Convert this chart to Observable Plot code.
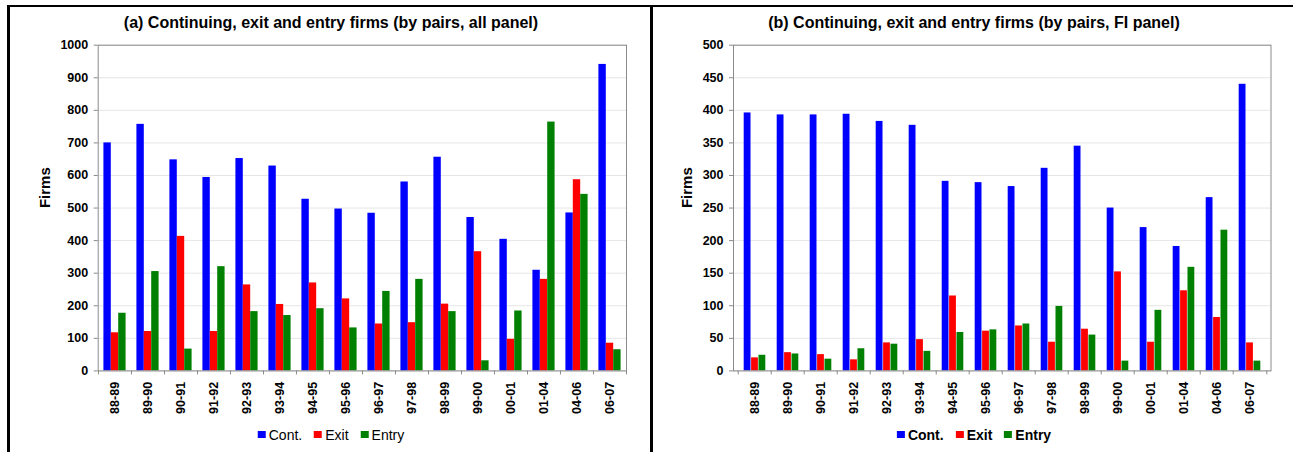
<!DOCTYPE html>
<html><head><meta charset="utf-8">
<script src="https://cdn.jsdelivr.net/npm/d3@7"></script>
<script src="https://cdn.jsdelivr.net/npm/@observablehq/plot@0.6"></script>
<style>
body{margin:0;background:#fff;font-family:"Liberation Sans",Arial,sans-serif;}
#root{position:relative;width:1293px;height:452px;overflow:hidden;background:#fff;}
.border{position:absolute;background:#000;}
.title{position:absolute;top:15px;font-weight:bold;font-size:16px;line-height:16px;white-space:nowrap;transform:translateX(-50%);color:#000;}
.chart{position:absolute;top:30px;}
.legend{position:absolute;top:426.5px;display:flex;align-items:center;transform:translateX(-50%);font-size:14px;line-height:16px;white-space:nowrap;color:#000;}
.sw{display:inline-block;width:8px;height:7px;margin-right:3px;}
.item{display:flex;align-items:center;margin-right:12px;}
.item:last-child{margin-right:0;}
</style></head>
<body><div id="root"></div>
<script>
// ---- data ----
const periods = ["88-89","89-90","90-91","91-92","92-93","93-94","94-95","95-96","96-97","97-98","98-99","99-00","00-01","01-04","04-06","06-07"];
const seriesNames = ["Cont.","Exit","Entry"];
const seriesColors = ["#0000ff","#ff0000","#008000"];

const contAll  = [700,757,648,594,652,629,527,497,484,580,656,471,404,309,485,941];
const exitAll  = [117,121,413,121,264,204,270,221,144,148,205,366,97,281,587,85];
const entryAll = [177,305,67,320,182,170,191,132,244,281,182,31,184,764,542,65];

const contFI  = [396,393,393,394,383,377,291,289,283,311,345,250,220,191,266,440];
const exitFI  = [20,28,25,17,43,48,115,61,69,44,64,152,44,123,82,43];
const entryFI = [24,26,18,34,41,30,59,63,72,99,55,15,93,159,216,15];

const yTicksAll = [0,100,200,300,400,500,600,700,800,900,1000];
const yTicksFI  = [0,50,100,150,200,250,300,350,400,450,500];

const titleAll = "(a) Continuing, exit and entry firms (by pairs, all panel)";
const titleFI  = "(b) Continuing, exit and entry firms (by pairs, FI panel)";
const yLabel = "Firms";

// ---- layout helpers ----
const root = document.getElementById("root");
function addBorder(l,t,w,h){const d=document.createElement("div");d.className="border";Object.assign(d.style,{left:l+"px",top:t+"px",width:w+"px",height:h+"px"});root.appendChild(d);}
addBorder(7,4.5,1293,2.5);
addBorder(7,4.5,3,460);
addBorder(650,4.5,3,460);

function panel({cont, exit, entry, yTicks, title, left, width, marginLeft, marginRight, center, labelX, legendBold}) {
  const rows = periods.map((p,i)=>({period:p, cont:cont[i], exit:exit[i], entry:entry[i]}));
  const height = 400, marginTop = 14.7, marginBottom = 59.6;
  const plotW = width - marginLeft - marginRight;
  const bw = plotW / periods.length;
  const barW = 7.4;
  const inset = (bw - barW) / 2;
  const gray = "#8a8a8a";
  const chart = Plot.plot({
    width, height, marginTop, marginBottom, marginLeft, marginRight,
    style: {fontFamily: '"Liberation Sans", Arial, sans-serif', fontSize: "12px", color: "#000", background: "transparent", overflow: "visible"},
    x: {type: "band", domain: periods, padding: 0, axis: null},
    y: {domain: [yTicks[0], yTicks[yTicks.length-1]], axis: null},
    marks: [
      Plot.gridY(yTicks, {stroke: "#e6e6e6", strokeOpacity: 1}),
      Plot.barY(rows, {x: "period", y: "cont", fill: seriesColors[0], insetLeft: inset, insetRight: inset, dx: -barW}),
      Plot.barY(rows, {x: "period", y: "exit", fill: seriesColors[1], insetLeft: inset, insetRight: inset}),
      Plot.barY(rows, {x: "period", y: "entry", fill: seriesColors[2], insetLeft: inset, insetRight: inset, dx: barW}),
      Plot.frame({stroke: gray}),
      Plot.axisY(yTicks, {tickSize: 4, tickPadding: 6, stroke: gray, fill: "#000", fontWeight: "bold", fontSize: 12.5, tickFormat: d => String(d), label: null}),
      Plot.axisX(periods, {tickSize: 0, tickPadding: 11, tickRotate: -90, fill: "#000", fontWeight: "bold", fontSize: 12.5, label: null}),
      Plot.axisX(periods, {tickSize: 4, tickFormat: () => "", dx: -bw/2, stroke: gray, label: null}),
      Plot.axisX([periods[periods.length-1]], {tickSize: 4, tickFormat: () => "", dx: bw/2, stroke: gray, label: null}),
      Plot.text([yLabel], {frameAnchor: "left", dx: labelX - (left + marginLeft), rotate: -90, fontSize: 15, fontWeight: "bold", fill: "#000"})
    ]
  });
  chart.classList.add("chart");
  chart.style.left = left + "px";
  root.appendChild(chart);

  const t = document.createElement("div");
  t.className = "title";
  t.textContent = title;
  t.style.left = center + "px";
  root.appendChild(t);

  const lg = document.createElement("div");
  lg.className = "legend";
  lg.style.left = center + "px";
  lg.style.fontWeight = legendBold ? "bold" : "normal";
  seriesNames.forEach((n,i)=>{
    const it = document.createElement("span"); it.className = "item";
    const sw = document.createElement("span"); sw.className = "sw"; sw.style.background = seriesColors[i];
    const tx = document.createElement("span"); tx.textContent = n;
    it.appendChild(sw); it.appendChild(tx); lg.appendChild(it);
  });
  root.appendChild(lg);
}

panel({cont: contAll, exit: exitAll, entry: entryAll, yTicks: yTicksAll, title: titleAll,
       left: 10, width: 640, marginLeft: 87.7, marginRight: 24, center: 331, labelX: 45, legendBold: false});
panel({cont: contFI, exit: exitFI, entry: entryFI, yTicks: yTicksFI, title: titleFI,
       left: 660, width: 630, marginLeft: 73, marginRight: 19.5, center: 974, labelX: 687, legendBold: true});
</script>
</body></html>
